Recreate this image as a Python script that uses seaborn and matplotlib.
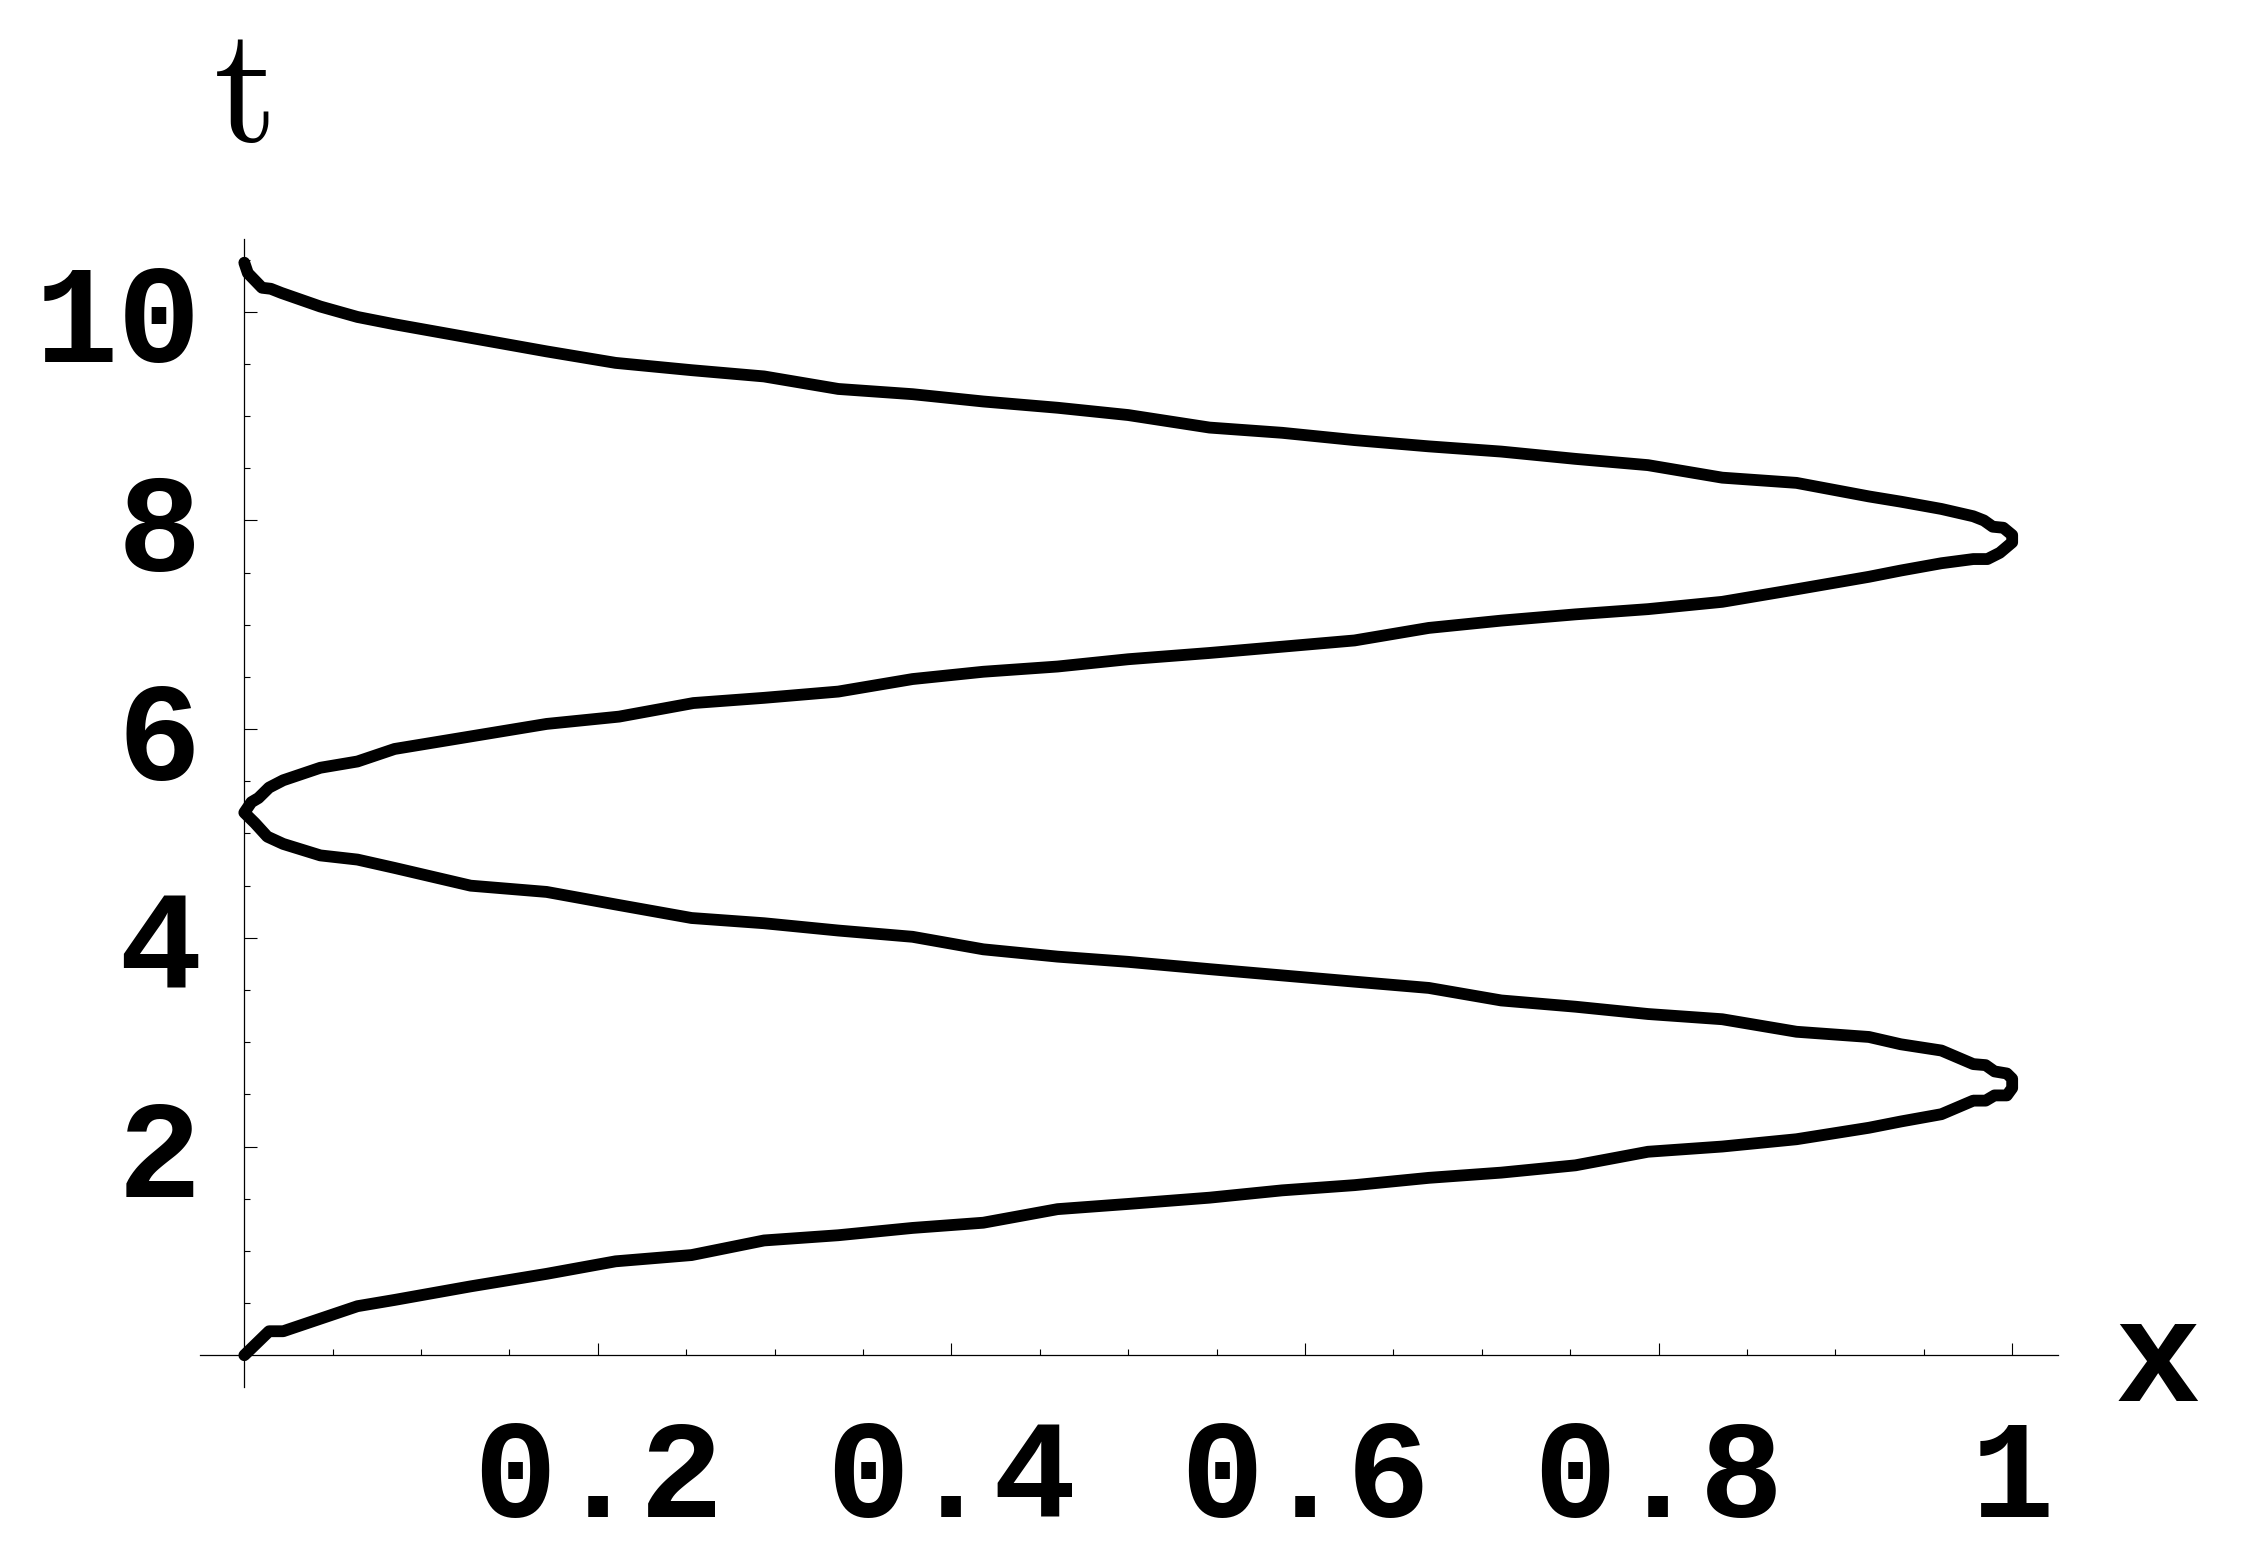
import matplotlib
matplotlib.use("Agg")
import matplotlib.pyplot as plt
import seaborn as sns
import pandas as pd
from matplotlib.ticker import MultipleLocator, FixedLocator, FixedFormatter

# ---- data ----
# branch A: from (0,0) up to the first peak at x=1
xa = [0.000, 0.014, 0.022, 0.064, 0.085, 0.128, 0.171, 0.210, 0.253, 0.294, 0.336, 0.378,
      0.418, 0.460, 0.500, 0.546, 0.587, 0.628, 0.670, 0.711, 0.753, 0.794, 0.836, 0.878,
      0.919, 0.937, 0.960, 0.978, 0.985, 0.990, 0.997, 1.000]
ta = [0.00, 0.23, 0.23, 0.47, 0.53, 0.66, 0.78, 0.90, 0.96, 1.10, 1.15, 1.22,
      1.27, 1.40, 1.45, 1.51, 1.58, 1.63, 1.70, 1.75, 1.82, 1.95, 2.00, 2.07,
      2.18, 2.24, 2.31, 2.44, 2.44, 2.49, 2.49, 2.56]
# branch B: back to x=0
xb = [1.000, 0.997, 0.990, 0.985, 0.978, 0.960, 0.937, 0.919, 0.878, 0.836, 0.794, 0.753,
      0.711, 0.670, 0.628, 0.587, 0.546, 0.500, 0.460, 0.418, 0.378, 0.336, 0.294, 0.253,
      0.210, 0.171, 0.128, 0.085, 0.064, 0.043, 0.022, 0.013, 0.006, 0.000]
tb = [2.65, 2.70, 2.72, 2.78, 2.79, 2.92, 2.98, 3.05, 3.10, 3.22, 3.27, 3.34,
      3.40, 3.52, 3.58, 3.64, 3.70, 3.77, 3.82, 3.89, 4.01, 4.07, 4.14, 4.19,
      4.32, 4.44, 4.50, 4.67, 4.75, 4.79, 4.90, 4.97, 5.10, 5.20]
# branch C: up to the second peak
xc = [0.004, 0.008, 0.014, 0.022, 0.043, 0.064, 0.085, 0.128, 0.171, 0.212, 0.254,
      0.294, 0.336, 0.378, 0.418, 0.460, 0.500, 0.546, 0.587, 0.628, 0.670, 0.711, 0.753,
      0.794, 0.836, 0.878, 0.919, 0.937, 0.960, 0.978, 0.986, 0.993, 1.000]
tc = [5.30, 5.34, 5.44, 5.51, 5.63, 5.69, 5.81, 5.93, 6.05, 6.12, 6.25,
      6.30, 6.36, 6.48, 6.55, 6.60, 6.67, 6.73, 6.79, 6.85, 6.97, 7.04, 7.10,
      7.15, 7.22, 7.34, 7.46, 7.52, 7.59, 7.63, 7.63, 7.69, 7.79]
# branch D: back to x=0 at the top
xd = [1.000, 0.995, 0.989, 0.984, 0.978, 0.960, 0.937, 0.919, 0.878, 0.836, 0.794, 0.753,
      0.711, 0.670, 0.628, 0.587, 0.546, 0.500, 0.460, 0.418, 0.378, 0.336, 0.294, 0.253,
      0.210, 0.171, 0.128, 0.085, 0.064, 0.043, 0.021, 0.015, 0.010, 0.006, 0.002, 0.000]
td = [7.86, 7.93, 7.94, 8.00, 8.04, 8.11, 8.18, 8.23, 8.36, 8.41, 8.53, 8.59,
      8.66, 8.71, 8.77, 8.84, 8.89, 9.01, 9.08, 9.14, 9.21, 9.26, 9.38, 9.44,
      9.51, 9.62, 9.75, 9.88, 9.95, 10.05, 10.18, 10.22, 10.23, 10.30, 10.37, 10.47]

x_ticks = [0.2, 0.4, 0.6, 0.8, 1.0]
x_tick_labels = ["0.2", "0.4", "0.6", "0.8", "1"]
t_ticks = [2, 4, 6, 8, 10]
t_tick_labels = ["2", "4", "6", "8", "10"]

# ---- style ----
sns.set_theme(style="white")
plt.rcParams["font.family"] = ["Liberation Mono", "DejaVu Sans"]
plt.rcParams["mathtext.fontset"] = "cm"
plt.rcParams["text.color"] = "black"

fig = plt.figure(figsize=(22.41, 15.48), dpi=100)
ax = fig.add_axes([0.0893, 0.1043, 0.8291, 0.7415])

df = pd.DataFrame({"x": xa + xb + xc + xd, "t": ta + tb + tc + td})
sns.lineplot(data=df, x="x", y="t", sort=False, estimator=None, color="black",
             linewidth=8.5, solid_joinstyle="round", solid_capstyle="round", ax=ax)

ax.set_xlim(-0.025, 1.026)
ax.set_ylim(-0.30, 10.70)
for s in ["top", "right"]:
    ax.spines[s].set_visible(False)
for s in ["left", "bottom"]:
    ax.spines[s].set_position(("data", 0))
    ax.spines[s].set_color("black")
    ax.spines[s].set_linewidth(0.9)

ax.xaxis.set_major_locator(FixedLocator(x_ticks))
ax.xaxis.set_major_formatter(FixedFormatter(x_tick_labels))
ax.yaxis.set_major_locator(FixedLocator(t_ticks))
ax.yaxis.set_major_formatter(FixedFormatter(t_tick_labels))
ax.xaxis.set_minor_locator(MultipleLocator(0.05))
ax.yaxis.set_minor_locator(MultipleLocator(0.5))

ax.tick_params(which="both", direction="in", color="black", width=0.8,
               bottom=True, left=True, top=False, right=False,
               labelcolor="black")
ax.tick_params(which="major", length=9)
ax.tick_params(which="minor", length=4.5)
ax.tick_params(axis="x", which="major", pad=44, labelsize=100)
ax.tick_params(axis="y", which="major", pad=31, labelsize=100)
for lab in ax.get_xticklabels() + ax.get_yticklabels():
    lab.set_fontweight("bold")

ax.set_xlabel("")
ax.set_ylabel("")
ax.text(1.0825, -0.44, "x", ha="center", va="baseline", fontsize=104,
        fontweight="bold", color="black", clip_on=False)
ax.text(-0.002, 11.64, r"$\mathrm{t}$", ha="center", va="baseline", fontsize=118,
        color="black", clip_on=False)

fig.savefig("out.png", dpi=100, facecolor="white")
